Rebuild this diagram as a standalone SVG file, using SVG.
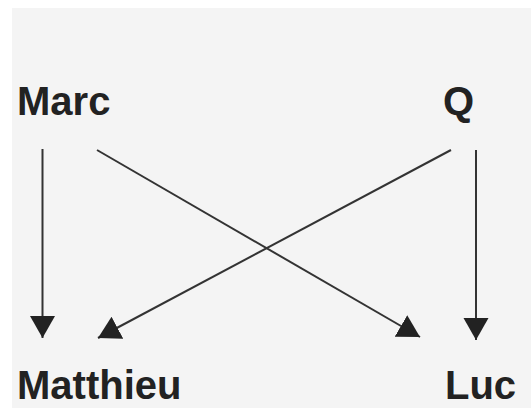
<svg xmlns="http://www.w3.org/2000/svg" width="531" height="408" viewBox="0 0 531 408">
  <style>
    .lbl { font-family: "Liberation Sans", Arial, sans-serif; font-weight: bold; font-size: 40px; fill: #222; }
    .edge { stroke: #333; stroke-width: 2; fill: none; marker-end: url(#ah); }
  </style>
  <defs>
    <marker id="ah" markerUnits="userSpaceOnUse" markerWidth="24" markerHeight="26" refX="22" refY="12.5" orient="auto">
      <path d="M0,0 L22,12.5 L0,25 Z" fill="#222"/>
    </marker>
  </defs>
  <rect width="531" height="408" fill="#ffffff"/>
  <rect x="12" y="8" width="519" height="400" fill="#f4f4f4"/>
  <g id="connectors">
    <line class="edge" x1="42.5" y1="149" x2="42.5" y2="338"/>
    <line class="edge" x1="476" y1="150" x2="476" y2="340"/>
    <line class="edge" x1="97" y1="150" x2="420" y2="337"/>
    <line class="edge" x1="451" y1="150" x2="98" y2="338"/>
  </g>
  <g id="marc"><text class="lbl" x="17" y="115">Marc</text></g>
  <g id="q"><text class="lbl" x="443" y="115">Q</text></g>
  <g id="matthieu"><text class="lbl" x="17" y="399">Matthieu</text></g>
  <g id="luc"><text class="lbl" x="445" y="399">Luc</text></g>
</svg>
